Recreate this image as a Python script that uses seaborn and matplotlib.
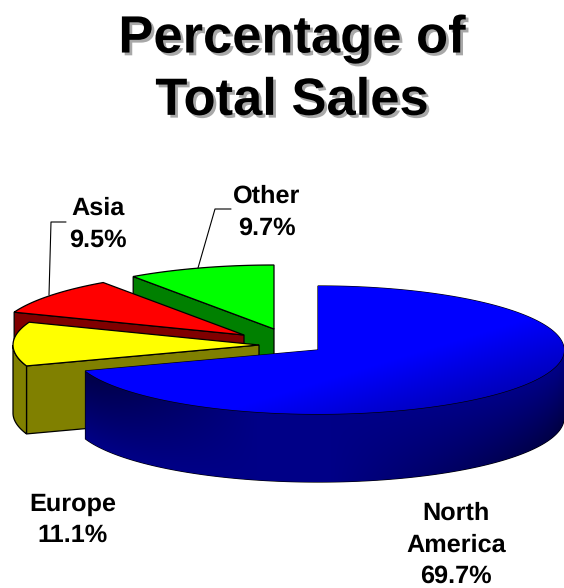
import numpy as np
import matplotlib
matplotlib.use("Agg")
import matplotlib.pyplot as plt
import matplotlib.patheffects as pe
from matplotlib.patches import Polygon
import seaborn as sns

# Sales share by region
regions = ["North\nAmerica", "Europe", "Asia", "Other"]
shares = [69.7, 11.1, 9.5, 9.7]
top_colors = ["#0000ff", "#ffff00", "#ff0000", "#00ff00"]
side_colors = ["#000080", "#808000", "#800000", "#008000"]

sns.set_theme(style="white")
plt.rcParams["font.family"] = ["Liberation Sans", "DejaVu Sans"]
plt.rcParams["text.hinting"] = "none"
top_palette = sns.color_palette(top_colors)
side_palette = sns.color_palette(side_colors)

fig = plt.figure(figsize=(5.64, 5.88), dpi=100)
ax = fig.add_axes([0, 0, 1, 1])
ax.set_xlim(0, 564)
ax.set_ylim(588, 0)
ax.axis("off")

RX, RY, DEPTH = 246, 64, 68
# Pie apex of each slice after it is pulled out of the pie
apexes = [(318, 350), (259, 345), (244, 335), (274, 329)]
label_xy = [(456, 545), (73, 520), (98, 224), (267, 212)]


def rim(cx, cy, a0, a1, n=160):
    """Points on the elliptical rim, angles clockwise from twelve o'clock."""
    a = np.radians(np.linspace(a0, a1, n))
    return np.column_stack([cx + RX * np.sin(a), cy - RY * np.cos(a)])


def shade(patch, values, extent):
    """Fill a patch with a blue ramp clipped to its outline."""
    img = np.zeros(values.shape + (3,))
    img[..., 2] = values / 255
    im = ax.imshow(img, extent=extent, origin="upper", aspect="auto",
                   zorder=patch.get_zorder(), interpolation="bilinear")
    im.set_clip_path(patch)


edges = np.cumsum([0] + shares) / sum(shares) * 360
slices = list(zip(edges[:-1], edges[1:], apexes, top_palette, side_palette))
gx, gy = np.meshgrid(np.arange(0, 564), np.arange(270, 500))
extent = (0, 564, 500, 270)

# Painted back to front: Other, Asia, Europe, North America
z = 2
for i in [3, 2, 1, 0]:
    a0, a1, (cx, cy), top, side = slices[i]

    # Cut face running from the apex to the slice's leading rim point
    if i != 0:
        lead = rim(cx, cy, a0, a0, 1)[0]
        cut = Polygon([tuple(lead), (cx, cy), (cx, cy + DEPTH),
                       (lead[0], lead[1] + DEPTH)],
                      closed=True, fc=side, ec="black", lw=0.9, zorder=z)
        ax.add_patch(cut)
        z += 1

    # Outer wall for the part of the rim that faces the viewer
    w0, w1 = max(a0, 90), min(a1, 270)
    if w1 > w0:
        arc = rim(cx, cy, w0, w1)
        wall = Polygon(np.vstack([arc, (arc + [0, DEPTH])[::-1]]),
                       closed=True, fc=side, ec="black", lw=0.9, zorder=z)
        ax.add_patch(wall)
        if i == 0:
            u = (gx - cx) / RX
            v = (gy - (cy + RY * np.sqrt(np.clip(1 - u ** 2, 0, 1)))) / DEPTH
            v = np.clip(v, 0, 1)
            vals = (135 - 70 * np.clip(-u - 0.25, 0, 1) / 0.75 * (1 - v)
                    - 70 * np.clip(u - 0.05, 0, 1) / 0.95 * v)
            shade(wall, vals, extent)
        z += 1

    # Top face of the slice
    face = Polygon(np.vstack([[(cx, cy)], rim(cx, cy, a0, a1)]), closed=True,
                   fc=top, ec="black", lw=0.9, zorder=z)
    ax.add_patch(face)
    if i == 0:
        d = (gx - cx) / RX * 0.7 + (gy - cy) / RY * 0.6 - 0.3
        shade(face, 255 - 110 * np.clip(d, 0, 1), extent)
    z += 1

# Category labels with their percentages
for name, share, (x, y) in zip(regions, shares, label_xy):
    ax.text(x, y, f"{name}\n{share:.1f}%", ha="center", va="center",
            fontsize=18.2, fontweight="bold", color="black",
            linespacing=1.46, zorder=50)

# Leader lines for the two rear slices
ax.plot([49, 51, 66], [295, 222, 222], color="black", lw=0.8, zorder=40)
ax.plot([198, 215, 231], [268, 209, 209], color="black", lw=0.8, zorder=40)

# Title with a soft grey drop shadow
title = ax.text(292, 70, "Percentage of\nTotal Sales", ha="center", va="center",
                fontsize=37.8, fontweight="bold", color="black",
                linespacing=1.33, zorder=50)
title.set_path_effects([
    pe.withSimplePatchShadow(offset=(2, -2), shadow_rgbFace="#a8a8a8", alpha=1.0)
])

fig.savefig("out.png", dpi=100, facecolor="white")
